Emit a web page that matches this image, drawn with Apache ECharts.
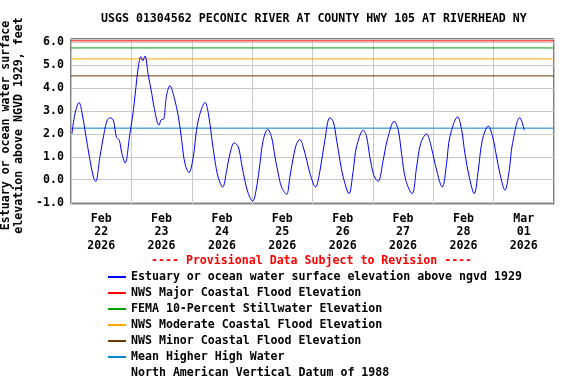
<!DOCTYPE html>
<html>
<head>
<meta charset="utf-8">
<script src="https://cdn.jsdelivr.net/npm/echarts@6/dist/echarts.min.js"></script>
<style>
  html, body { margin: 0; padding: 0; background: #fff; }
  #chart { width: 576px; height: 384px; }
</style>
</head>
<body>
<div id="chart"></div>
<script>
// hours since Feb 22 2026 00:00
const hours = [
  0.4, 1.6, 3.2, 4.2, 5.8, 7.3, 8.9, 9.8, 11.5, 13.1,
  14.4, 15.5, 16.8, 18.1, 19.2, 20.1, 21.5, 23.4, 24.8, 25.8,
  26.9, 27.8, 28.5, 29.4, 30.7, 32.1, 33.1, 35.0, 36.0, 36.7,
  38.0, 39.3, 41.1, 42.7, 44.0, 45.3, 46.9, 48.6, 49.9, 51.3,
  53.3, 54.6, 55.9, 57.2, 58.5, 60.3, 61.9, 63.2, 64.9, 66.5,
  67.8, 69.1, 70.5, 72.2, 73.8, 75.1, 76.4, 78.2, 79.7, 81.1,
  82.4, 83.7, 85.7, 87.0, 88.4, 89.7, 91.0, 92.3, 93.7, 95.0,
  97.2, 99.0, 100.9, 102.9, 104.3, 105.6, 106.9, 108.2, 110.5, 112.2,
  113.5, 116.2, 117.5, 118.8, 120.4, 122.1, 124.1, 125.7, 128.5, 130.1,
  131.4, 133.1, 135.6, 137.4, 139.0, 141.3, 142.9, 144.7, 147.6, 149.3,
  150.6, 153.7, 155.3, 156.6, 158.3, 160.3, 161.9, 163.5, 165.9, 167.6,
  169.2, 170.5, 172.5, 174.2, 175.5, 178.4, 180.2
];
// water surface elevation, feet
const level = [
  2.01, 2.89, 3.37, 3.03, 2.0, 1.0, 0.12, -0.07, 1.0, 2.0,
  2.6, 2.70, 2.60, 1.84, 1.72, 1.21, 0.73, 2.0, 3.02, 4.03,
  5.03, 5.37, 5.19, 5.40, 4.57, 3.76, 3.11, 2.38, 2.63, 2.63,
  3.69, 4.10, 3.55, 2.74, 1.72, 0.70, 0.31, 0.99, 2.16, 2.89,
  3.37, 2.89, 1.87, 0.85, 0.12, -0.32, 0.41, 1.14, 1.61, 1.43,
  0.70, -0.03, -0.61, -0.94, -0.32, 0.70, 1.72, 2.20, 1.87, 0.99,
  0.26, -0.32, -0.64, 0.12, 0.99, 1.58, 1.75, 1.43, 0.85, 0.27,
  -0.32, 0.41, 1.72, 2.71, 2.52, 1.72, 0.85, 0.12, -0.61, 0.41,
  1.43, 2.16, 1.87, 0.99, 0.19, -0.07, 0.85, 1.72, 2.55, 2.16,
  1.14, -0.03, -0.61, 0.56, 1.58, 1.99, 1.58, 0.70, -0.32, 0.70,
  1.87, 2.74, 2.16, 1.14, 0.12, -0.61, 0.41, 1.72, 2.34, 1.87,
  0.99, 0.26, -0.46, 0.41, 1.58, 2.71, 2.16
];
const days = ['Feb\n22\n2026', 'Feb\n23\n2026', 'Feb\n24\n2026', 'Feb\n25\n2026',
  'Feb\n26\n2026', 'Feb\n27\n2026', 'Feb\n28\n2026', 'Mar\n01\n2026'];

const refNames = ['NWS Major Coastal Flood Elevation', 'FEMA 10-Percent Stillwater Elevation',
  'NWS Moderate Coastal Flood Elevation', 'NWS Minor Coastal Flood Elevation', 'Mean Higher High Water'];
const refLevels = [6.06, 5.75, 5.27, 4.53, 2.25];
const refColors = ['#ff0000', '#00a000', '#ffa500', '#703800', '#0a80d0'];

const seriesName = 'Estuary or ocean water surface elevation above ngvd 1929';
const datumName = 'North American Vertical Datum of 1988';

const FONT = 'DejaVu Sans Mono';
const txt = { fontFamily: FONT, fontWeight: 'bold', fontSize: 11.6, color: '#000' };

const chart = echarts.init(document.getElementById('chart'));

const refSeries = refNames.map((name, i) => ({
  name: name,
  type: 'line',
  symbol: 'none',
  silent: true,
  color: refColors[i],
  lineStyle: { width: 1, color: refColors[i] },
  data: [[0, refLevels[i]], [192, refLevels[i]]]
}));

chart.setOption({
  animation: false,
  backgroundColor: '#fff',
  title: [
    { text: 'USGS 01304562 PECONIC RIVER AT COUNTY HWY 105 AT RIVERHEAD NY',
      left: 101, top: 13, padding: 0, textStyle: txt },
    { text: '---- Provisional Data Subject to Revision ----',
      left: 151, top: 255, padding: 0, textStyle: Object.assign({}, txt, { color: '#ff0000' }) }
  ],
  grid: { left: 71, right: 22, top: 39, bottom: 180, show: true,
    containLabel: false, outerBoundsMode: 'none',
    borderColor: '#000', borderWidth: 1, backgroundColor: '#fff' },
  legend: {
    orient: 'vertical', left: 108, top: 269, padding: 0,
    itemWidth: 18, itemHeight: 2, itemGap: 0, icon: 'rect',
    selectedMode: false,
    textStyle: Object.assign({}, txt, { lineHeight: 16 }),
    data: [seriesName].concat(refNames, [datumName])
  },
  xAxis: [
    { type: 'value', min: 0, max: 192, show: false },
    { type: 'category', data: days, boundaryGap: true, position: 'bottom',
      axisLine: { show: false }, axisTick: { show: false },
      splitLine: { show: true, interval: 0, lineStyle: { color: '#c8c8c8', width: 1 } },
      axisLabel: Object.assign({}, txt, { margin: 8, lineHeight: 13.5, interval: 0 }) }
  ],
  yAxis: {
    type: 'value', min: -1.06, max: 6.14, splitNumber: 7,
    axisLine: { show: false }, axisTick: { show: false },
    splitLine: { lineStyle: { color: '#c8c8c8', width: 1 } },
    axisLabel: Object.assign({}, txt, { margin: 7, showMinLabel: false, showMaxLabel: false,
      formatter: v => v.toFixed(1) }),
    name: 'Estuary or ocean water surface\nelevation above NGVD 1929, feet',
    nameLocation: 'middle', nameGap: 40, nameRotate: 90,
    nameTextStyle: Object.assign({}, txt, { lineHeight: 13, padding: [0, 8, 0, 0] })
  },
  series: refSeries.concat([
    { name: seriesName, type: 'line', symbol: 'none', smooth: 0.35, z: 5,
      color: '#0000ff', lineStyle: { width: 1, color: '#0000ff' },
      data: hours.map((h, i) => [h, level[i]]) },
    { name: datumName, type: 'line', symbol: 'none', color: 'rgba(0,0,0,0)', data: [] }
  ])
});
</script>
</body>
</html>
